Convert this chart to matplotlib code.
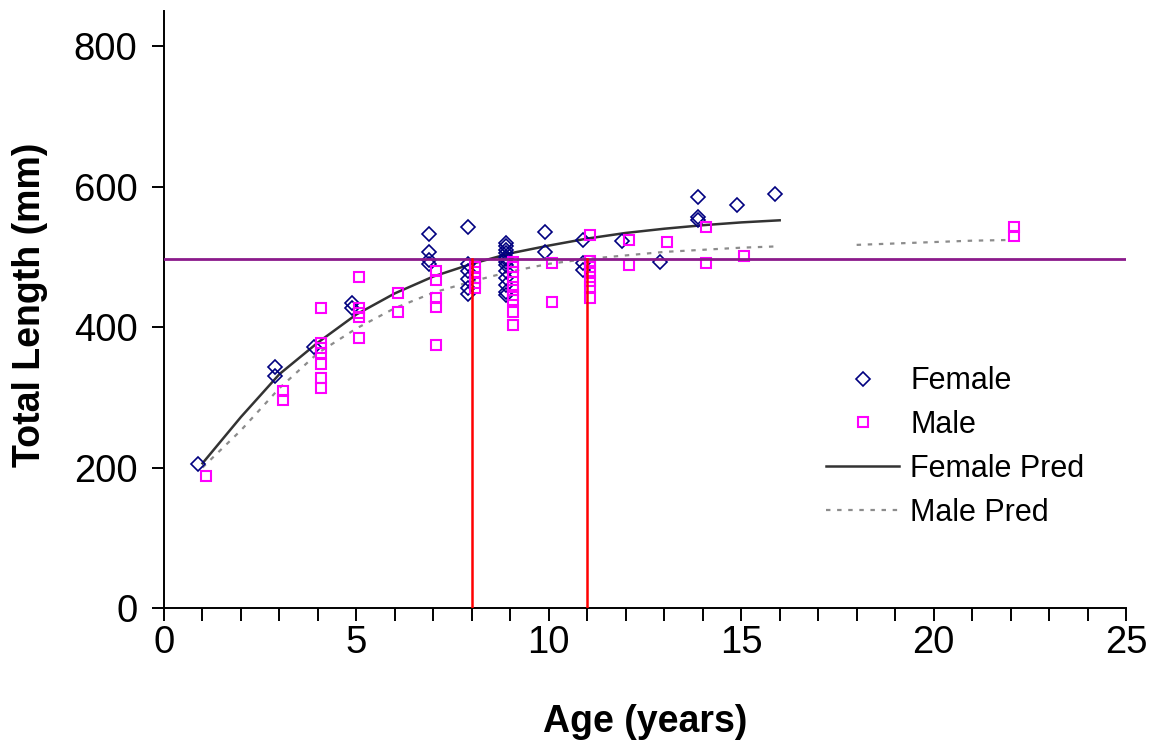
import numpy as np
import matplotlib
matplotlib.use("Agg")
import matplotlib.pyplot as plt
from matplotlib.ticker import MultipleLocator

plt.rcParams["font.family"] = ["Liberation Sans", "DejaVu Sans"]

# observed fish, ages in years, total length in mm
female_age = [1, 3, 3, 4, 5, 5, 7, 7, 7, 7,
              8, 8, 8, 8, 8, 8,
              9, 9, 9, 9, 9, 9, 9, 9, 9, 9, 9, 9, 9,
              10, 10, 11, 11, 11, 12, 13, 14, 14, 14, 15, 16]
female_len = [205, 343, 330, 372, 434, 427, 533, 507, 495, 490,
              542, 490, 480, 468, 455, 447,
              520, 515, 510, 505, 500, 497, 493, 488, 480, 470, 460, 450, 445,
              535, 507, 524, 491, 481, 522, 493, 585, 557, 553, 574, 589]

male_age = [1, 3, 3, 4, 4, 4, 4, 4, 4, 4,
            5, 5, 5, 5, 5, 6, 6, 7, 7, 7, 7, 7,
            8, 8, 8, 8, 8,
            9, 9, 9, 9, 9, 9, 9, 9, 9, 9,
            10, 10, 11, 11, 11, 11, 11, 11, 11,
            12, 12, 13, 14, 14, 15, 22, 22]
male_len = [188, 309, 296, 427, 377, 370, 363, 347, 327, 313,
            471, 427, 420, 414, 384, 448, 421, 480, 467, 441, 428, 374,
            485, 478, 470, 463, 456,
            492, 485, 478, 471, 457, 453, 446, 438, 421, 403,
            491, 436, 531, 494, 485, 477, 466, 457, 441,
            524, 488, 521, 542, 491, 501, 542, 530]

# fitted growth curves
female_pred_age = list(range(1, 17))
female_pred_len = [206, 272, 333, 378, 418, 448, 472, 490,
                   505, 516, 526, 534, 540, 545, 549, 552]

male_pred_age = list(range(1, 23))
male_pred_len = [200, 253, 313, 363, 398, 427, 449, 465, 479, 490, 497,
                 502, 507, 510, 513, 515, np.nan, 517, 519, 521, 523, 524]

ref_length = 497
ref_ages = [8, 11]

fig = plt.figure(figsize=(11.54, 7.51), dpi=100)
ax = fig.add_axes([164 / 1154, 1 - 608 / 751, 962 / 1154, 597 / 751])

# small horizontal dodge so the two sexes don't sit on top of each other
ax.plot(np.array(female_age) - 0.11, female_len, linestyle="none", marker="D",
        markersize=7, markerfacecolor="none", markeredgecolor="#000080",
        markeredgewidth=1.2, label="Female", zorder=3)
ax.plot(np.array(male_age) + 0.08, male_len, linestyle="none", marker="s",
        markersize=7, markerfacecolor="none", markeredgecolor="#FF00FF",
        markeredgewidth=1.5, label="Male", zorder=3)
ax.plot(female_pred_age, female_pred_len, color="#333333", linewidth=1.8,
        label="Female Pred", zorder=2)
ax.plot(male_pred_age, male_pred_len, color="#8c8c8c", linewidth=1.6,
        linestyle=(0, (2, 3)), label="Male Pred", zorder=2)

ax.axhline(ref_length, color="#8B1A8B", linewidth=2, zorder=4)
for a in ref_ages:
    ax.plot([a, a], [0, ref_length], color="#FF0000", linewidth=1.8, zorder=4)

ax.set_xlim(0, 25)
ax.set_ylim(0, 850)
ax.set_xticks(range(0, 26, 5))
ax.xaxis.set_minor_locator(MultipleLocator(1))
ax.set_yticks(range(0, 801, 200))

for side in ("top", "right"):
    ax.spines[side].set_visible(False)
for side in ("left", "bottom"):
    ax.spines[side].set_linewidth(1.4)

ax.tick_params(axis="x", which="both", direction="out", length=9, width=1.4,
               labelsize=27.5, pad=3)
ax.tick_params(axis="y", direction="out", length=9, width=1.4,
               labelsize=27.5, pad=10)

fig.text(30 / 1154, 1 - 305 / 751, "Total Length (mm)", rotation=90,
         ha="center", va="center", fontsize=27, fontweight="bold")
fig.text(645 / 1154, 1 - 722 / 751, "Age (years)", ha="center", va="center",
         fontsize=27, fontweight="bold")

ax.legend(loc="center left", bbox_to_anchor=(826 / 1154, 1 - 447 / 751),
          bbox_transform=fig.transFigure, frameon=False, fontsize=22,
          handlelength=2.4, handletextpad=0.35, labelspacing=0.45,
          borderpad=0, borderaxespad=0, numpoints=1)

fig.savefig("out.png", dpi=100)
